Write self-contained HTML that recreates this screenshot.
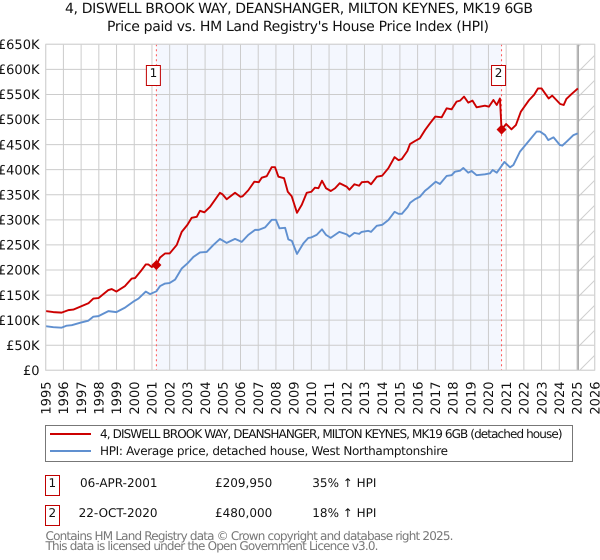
<!DOCTYPE html>
<html lang="en">
<head>
<meta charset="utf-8">
<title>Price paid vs HPI</title>
<style>
html,body{margin:0;padding:0;background:#fff;}
svg{display:block;font-family:"DejaVu Sans","Liberation Sans",sans-serif;text-rendering:geometricPrecision;}
</style>
</head>
<body>
<svg id="chart" xmlns="http://www.w3.org/2000/svg" width="600" height="560" viewBox="0 0 600 560">
  <defs>
    <pattern id="hatch" patternUnits="userSpaceOnUse" width="25" height="25">
      <line x1="0" y1="25" x2="25" y2="0" stroke="#cfcfcf" stroke-width="1"/>
    </pattern>
  </defs>
  <text x="299" y="13" text-anchor="middle" font-size="14" textLength="468" lengthAdjust="spacing" fill="#111">4, DISWELL BROOK WAY, DEANSHANGER, MILTON KEYNES, MK19 6GB</text>
  <text x="298" y="31" text-anchor="middle" font-size="14" textLength="382" lengthAdjust="spacing" fill="#111">Price paid vs. HM Land Registry's House Price Index (HPI)</text>
  <g id="plot"></g>

  <g>
    <rect x="45.5" y="425.5" width="527" height="36" fill="#fff" stroke="#777" stroke-width="1"/>
    <line x1="50" y1="434" x2="91" y2="434" stroke="#cc0000" stroke-width="2"/>
    <text x="100" y="438" font-size="12" textLength="462.5" lengthAdjust="spacing" fill="#111">4, DISWELL BROOK WAY, DEANSHANGER, MILTON KEYNES, MK19 6GB (detached house)</text>
    <line x1="50" y1="451" x2="91" y2="451" stroke="#6090d0" stroke-width="2"/>
    <text x="100" y="455" font-size="12" textLength="348" lengthAdjust="spacing" fill="#111">HPI: Average price, detached house, West Northamptonshire</text>
  </g>

  <g font-size="12" fill="#111">
    <rect x="45.5" y="475.5" width="14" height="20" fill="#fff" stroke="#c00000" stroke-width="1"/>
    <text x="52.3" y="487" text-anchor="middle">1</text>
    <text x="157.5" y="487" text-anchor="end">06-APR-2001</text>
    <text x="215" y="487">£209,950</text>
    <text x="312.3" y="487">35% ↑ HPI</text>
    <rect x="45.5" y="505.5" width="14" height="20" fill="#fff" stroke="#c00000" stroke-width="1"/>
    <text x="52.3" y="517" text-anchor="middle">2</text>
    <text x="157.5" y="517" text-anchor="end">22-OCT-2020</text>
    <text x="215" y="517">£480,000</text>
    <text x="312.3" y="517">18% ↑ HPI</text>
  </g>

  <g font-size="12" fill="#777">
    <text x="45.5" y="540" textLength="408" lengthAdjust="spacing">Contains HM Land Registry data © Crown copyright and database right 2025.</text>
    <text x="45.5" y="550" textLength="333" lengthAdjust="spacing">This data is licensed under the Open Government Licence v3.0.</text>
  </g>
</svg>
<script>
const yearTicks = [1995,1996,1997,1998,1999,2000,2001,2002,2003,2004,2005,2006,2007,2008,2009,2010,2011,2012,2013,2014,2015,2016,2017,2018,2019,2020,2021,2022,2023,2024,2025,2026];
const valueTicks = [0,50,100,150,200,250,300,350,400,450,500,550,600,650];
const valueTickLabels = ["£0","£50K","£100K","£150K","£200K","£250K","£300K","£350K","£400K","£450K","£500K","£550K","£600K","£650K"];

const priceDates = [1995,1995.43,1995.9,1996.28,1996.56,1996.96,1997.41,1997.69,1997.98,1998.54,1998.73,1998.99,1999.48,1999.86,2000.05,2000.42,2000.65,2000.8,2000.99,2001.25,2001.46,2001.74,2002,2002.4,2002.68,2003,2003.24,2003.53,2003.71,2003.96,2004.28,2004.56,2004.84,2004.98,2005.22,2005.69,2005.99,2006.12,2006.44,2006.78,2007.03,2007.2,2007.48,2007.76,2007.95,2008.14,2008.46,2008.67,2008.89,2009.19,2009.46,2009.74,2010,2010.2,2010.4,2010.6,2010.83,2011.1,2011.34,2011.6,2012,2012.15,2012.43,2012.7,2012.85,2013.2,2013.37,2013.7,2014,2014.35,2014.7,2014.92,2015.1,2015.42,2015.57,2015.85,2016.13,2016.42,2016.7,2017,2017.36,2017.64,2017.92,2018.2,2018.4,2018.62,2018.86,2019.1,2019.33,2019.8,2020.03,2020.28,2020.47,2020.65,2020.74,2021,2021.3,2021.55,2021.83,2022.3,2022.57,2022.8,2023,2023.4,2023.6,2024.05,2024.25,2024.4,2024.7,2025.05];
const priceValues = [118,116,115,120,121,127,133.6,143,144,160,162,157,168,183,184,200,211,211,206,210,225,233,233,250,276,290,304,306,318,315,326,340,354,351,341,354,346,347,359,376,375,384,387,405,405,386,383,356,347,314,330,354,356,364,363,378,363,357.5,363,373,366,360,371,368,375,376,371,386,388,403,425,419,421,437,451,457,462.6,479,492.5,506,504.5,522.4,520.4,535.7,537.7,545.7,533.7,537.7,524.4,527.7,525.7,539,529,542,480,491,480.5,489,515.7,539,549,562,562,542,547.7,531,529,541,551,562];

const hpiDates = [1995,1995.43,1995.9,1996.19,1996.47,1996.96,1997.41,1997.69,1997.98,1998.54,1998.99,1999.48,1999.95,2000.24,2000.65,2000.89,2001.25,2001.46,2001.74,2001.99,2002.31,2002.68,2003,2003.34,2003.71,2004.09,2004.47,2004.84,2005.22,2005.69,2006.07,2006.44,2006.82,2007.03,2007.39,2007.76,2008,2008.2,2008.52,2008.7,2008.9,2009.19,2009.55,2009.83,2010,2010.3,2010.6,2010.83,2011.09,2011.58,2012,2012.15,2012.43,2012.7,2012.84,2013.22,2013.37,2013.69,2014,2014.36,2014.7,2014.92,2015.11,2015.43,2015.58,2015.85,2016.13,2016.42,2016.6,2017.02,2017.26,2017.64,2017.92,2018.11,2018.4,2018.58,2018.86,2019.05,2019.33,2019.8,2020.09,2020.24,2020.47,2020.65,2020.9,2021.22,2021.41,2021.78,2022.25,2022.72,2022.91,2023.2,2023.38,2023.67,2024.04,2024.17,2024.42,2024.8,2025.04];
const hpiValues = [88,86,85,89,90,95,99,107,108,118,116,125,137,143,157,152,157.5,168,173,174,181,203,213,226,235,236,250,262,254,262,256,270,280,280,285,300,300,283,284,261,258,232,253,264,265,270,281,270,264,276,271,266.5,274,272,276,278,276,288,290,300,316,312,312,325,334,341,346,358,363,376,371.5,387.5,389,396,398,403.4,394,397.4,389,390.8,392.8,399.4,394,402.8,415.4,404.7,409.4,436,456,476,476,469,459,464.6,449,448,456,469,472.5];

const saleDates = [2001.25, 2020.74];
const salePrices = [209.95, 480];
const saleLabels = ["1", "2"];
const dataEndDate = 2025.07;

const plotLeft = 45.7, plotRight = 594.7, plotTop = 44.3, plotBottom = 370.3;
const yearMin = 1995, yearMax = 2026, valueMin = 0, valueMax = 650;
function xOf(year) { return plotLeft + (year - yearMin) / (yearMax - yearMin) * (plotRight - plotLeft); }
function yOf(value) { return plotBottom - (value - valueMin) / (valueMax - valueMin) * (plotBottom - plotTop); }

const NS = "http://www.w3.org/2000/svg";
const plot = document.getElementById("plot");
function make(tag, attrs) {
  const el = document.createElementNS(NS, tag);
  for (const k in attrs) el.setAttribute(k, attrs[k]);
  plot.appendChild(el);
  return el;
}

// between-sales shading
const shade = make("rect", {x: xOf(saleDates[0]), y: plotTop, width: xOf(saleDates[1]) - xOf(saleDates[0]), height: plotBottom - plotTop, fill: "#f4f7fe"});



// forecast hatch
const hatchArea = make("rect", {x: xOf(dataEndDate), y: plotTop, width: plotRight - xOf(dataEndDate), height: plotBottom - plotTop, fill: "url(#hatch)"});



// grid + tick labels
valueTicks.forEach(function (v, i) {
  const g = make("line", {x1: plotLeft, x2: plotRight, y1: yOf(v), y2: yOf(v), stroke: "#cccccc", "stroke-width": 1});
  
  
  const t = make("text", {x: 39.5, y: yOf(v) + 4.7, "text-anchor": "end", "font-size": 13, fill: "#111"});
  t.textContent = valueTickLabels[i];
  
  
});
yearTicks.forEach(function (yr) {
  const g = make("line", {x1: xOf(yr), x2: xOf(yr), y1: plotTop, y2: plotBottom, stroke: "#cccccc", "stroke-width": 1});
  
  
  const t = make("text", {transform: "translate(" + (xOf(yr) + 4.7) + ",381.5) rotate(-90)", "text-anchor": "end", "font-size": 13, fill: "#111"});
  t.textContent = String(yr);
  
  
});

// latest data line
const endLine = make("line", {x1: xOf(dataEndDate), x2: xOf(dataEndDate), y1: plotTop, y2: plotBottom, stroke: "#aaaaaa", "stroke-width": 1.5});



// sale verticals
saleDates.forEach(function (d) {
  const l = make("line", {x1: xOf(d), x2: xOf(d), y1: plotTop, y2: plotBottom, stroke: "#ff5555", "stroke-width": 1, "stroke-dasharray": "2 3"});
  
  
});

function pathFor(dates, values) {
  return dates.map(function (d, i) { return xOf(d).toFixed(2) + "," + yOf(values[i]).toFixed(2); }).join(" ");
}
const hpiLine = make("polyline", {points: pathFor(hpiDates, hpiValues), fill: "none", stroke: "#6090d0", "stroke-width": 1.9, "stroke-linejoin": "round"});


const priceLine = make("polyline", {points: pathFor(priceDates, priceValues), fill: "none", stroke: "#cc0000", "stroke-width": 1.9, "stroke-linejoin": "round"});



// sale markers and badges
saleDates.forEach(function (d, i) {
  const cx = xOf(d), cy = yOf(salePrices[i]), r = 4.6;
  const m = make("polygon", {points: (cx - r) + "," + cy + " " + cx + "," + (cy - r) + " " + (cx + r) + "," + cy + " " + cx + "," + (cy + r), fill: "#cc0000", stroke: "#cc0000", "stroke-width": 0.6, "stroke-linejoin": "round"});
  
  
  const b = make("rect", {x: cx - 10, y: 65.5, width: 14, height: 20, fill: "#fff", stroke: "#c00000", "stroke-width": 1});
  
  
  const t = make("text", {x: cx - 3, y: 77, "text-anchor": "middle", "font-size": 12, fill: "#111"});
  t.textContent = saleLabels[i];
  
  
});

// plot border
const border = make("rect", {x: plotLeft, y: plotTop, width: plotRight - plotLeft, height: plotBottom - plotTop, fill: "none", stroke: "#d4d4d4", "stroke-width": 1});


</script>
</body>
</html>
